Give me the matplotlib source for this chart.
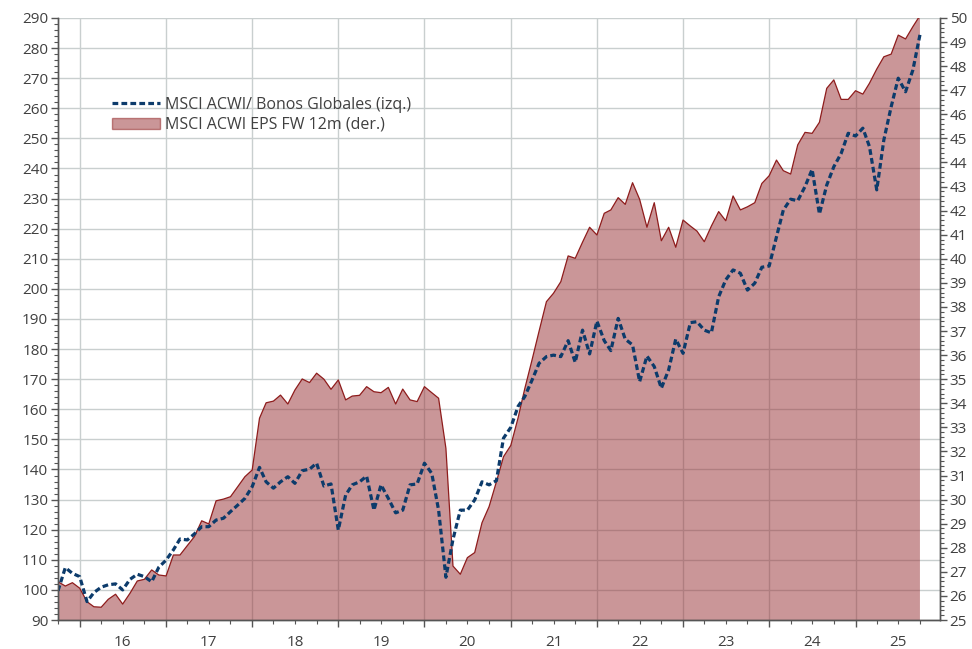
import numpy as np
import pandas as pd
import matplotlib
matplotlib.use("Agg")
import matplotlib.pyplot as plt
import matplotlib.dates as mdates
from matplotlib.ticker import MultipleLocator, FuncFormatter
from matplotlib.lines import Line2D
from matplotlib.patches import Patch

plt.rcParams['font.family'] = ['Open Sans', 'DejaVu Sans']

# monthly, Oct-2015 .. Oct-2025
dates = pd.date_range('2015-10-01', periods=121, freq='MS')

# MSCI ACWI / Global bonds (left axis)
ratio = [
    99.7, 107.4, 105.5, 104.4, 96.1, 99.1, 100.9, 101.7, 102.0, 100.0,
    103.5, 105.2, 104.4, 102.7, 107.5, 109.9, 113.3, 116.9, 116.6, 118.6,
    121.0, 121.0, 123.2, 123.8, 126.0, 128.2, 130.4, 134.3, 140.7, 135.9,
    133.8, 135.9, 137.6, 135.4, 139.6, 140.1, 142.1, 134.5, 135.2, 119.9,
    131.5, 134.9, 135.9, 137.8, 126.5, 134.9, 130.4, 125.6, 126.5, 134.9,
    135.2, 142.1, 138.7, 126.5, 104.2, 116.8, 126.5, 126.5, 129.9, 135.9,
    134.9, 136.3, 150.4, 154.0, 161.0, 164.2, 169.7, 175.3, 177.5, 178.0,
    177.5, 182.8, 175.6, 186.3, 178.4, 189.3, 182.8, 179.5, 190.2, 183.3,
    181.4, 169.2, 177.7, 174.2, 167.0, 173.1, 183.3, 178.6, 188.8, 189.1,
    186.3, 185.4, 197.4, 203.0, 206.3, 205.2, 199.6, 201.9, 207.2, 207.6,
    217.3, 226.2, 229.8, 229.3, 234.0, 239.7, 224.9, 234.5, 240.6, 245.0,
    251.7, 250.8, 253.4, 247.3, 232.9, 249.5, 260.5, 270.0, 265.5, 272.7,
    284.4,
]

# MSCI ACWI EPS forward 12m (right axis)
eps = [
    26.59, 26.41, 26.55, 26.32, 25.76, 25.55, 25.53, 25.86, 26.07, 25.66,
    26.11, 26.62, 26.69, 27.08, 26.87, 26.83, 27.70, 27.70, 28.09, 28.46,
    29.12, 28.99, 29.95, 30.02, 30.12, 30.54, 30.95, 31.23, 33.38, 34.02,
    34.09, 34.34, 33.97, 34.55, 35.01, 34.86, 35.25, 35.00, 34.58, 34.97,
    34.14, 34.30, 34.33, 34.69, 34.48, 34.44, 34.66, 33.97, 34.59, 34.14,
    34.07, 34.69, 34.44, 34.21, 32.13, 27.24, 26.90, 27.59, 27.80, 29.04,
    29.71, 30.74, 31.78, 32.25, 33.40, 34.60, 35.80, 37.00, 38.22, 38.57,
    39.05, 40.12, 40.02, 40.69, 41.31, 40.99, 41.89, 42.03, 42.54, 42.26,
    43.16, 42.47, 41.31, 42.33, 40.75, 41.31, 40.48, 41.61, 41.36, 41.15,
    40.71, 41.36, 41.96, 41.58, 42.61, 42.03, 42.16, 42.33, 43.13, 43.45,
    44.10, 43.66, 43.52, 44.73, 45.25, 45.21, 45.67, 47.08, 47.43, 46.62,
    46.62, 46.98, 46.84, 47.29, 47.88, 48.39, 48.50, 49.29, 49.13, 49.64,
    50.10,
]

lbl_ratio = 'MSCI ACWI/ Bonos Globales (izq.)'
lbl_eps = 'MSCI ACWI EPS FW 12m (der.)'

txt = '#404040'
fill_c = '#972f33'
edge_c = '#8e1c1c'
blue = '#0c3b6b'
grid_c = '#c9cfcf'

fig = plt.figure(figsize=(9.72, 6.49), dpi=100)
ax = fig.add_axes([58 / 972, 1 - 620 / 649, 882 / 972, 602 / 649])
ax2 = ax.twinx()

ax.set_ylim(90, 290)
ax2.set_ylim(25, 50)

# area drawn in ax (so grid stays beneath it) but on the right-axis scale
ax.fill_between(dates, 25, eps, transform=ax2.transData,
                facecolor=fill_c, alpha=0.5, linewidth=0, zorder=1)
ax.plot(dates, eps, transform=ax2.transData, color=edge_c, lw=0.9, zorder=1.5)
ax.plot(dates, ratio, color=blue, lw=2.3, dashes=(1.8, 1.0), zorder=3)
ax.set_ylim(90, 290)
ax.set_xlim(dates[0], pd.Timestamp('2025-12-25'))

ax.set_axisbelow(True)
ax.grid(True, which='major', axis='both', color=grid_c, lw=1)

ax.yaxis.set_major_locator(MultipleLocator(10))
ax.yaxis.set_minor_locator(MultipleLocator(2))
ax2.yaxis.set_major_locator(MultipleLocator(1))
ax2.yaxis.set_minor_locator(MultipleLocator(0.2))

ax.xaxis.set_major_locator(mdates.YearLocator())
ax.xaxis.set_major_formatter(FuncFormatter(lambda v, p: ''))
ax.xaxis.set_minor_locator(mdates.MonthLocator(bymonth=[1, 4, 7, 10]))
ax.xaxis.set_minor_formatter(FuncFormatter(
    lambda v, p: mdates.num2date(v).strftime('%y') if mdates.num2date(v).month == 7 else ''))

for a in (ax, ax2):
    a.spines['top'].set_visible(False)
    for s in ('left', 'right', 'bottom'):
        a.spines[s].set_color('#555555')
        a.spines[s].set_linewidth(1)
    a.tick_params(which='major', length=5, width=1, color='#555555',
                  labelsize=11, labelcolor=txt)
    a.tick_params(which='minor', length=3, width=0.8, color='#555555',
                  labelsize=11, labelcolor=txt)
ax.tick_params(axis='x', which='minor', pad=8)
ax.tick_params(axis='y', which='major', pad=2)
ax2.tick_params(axis='y', which='major', pad=2)

handles = [Line2D([], [], color=blue, lw=2.3, dashes=(1.8, 1.0)),
           Patch(facecolor=fill_c, alpha=0.5, edgecolor=edge_c)]
fig.legend(handles, [lbl_ratio, lbl_eps], loc='upper left',
           bbox_to_anchor=(104 / 972, 1 - 89 / 649), frameon=False,
           fontsize=11.5, labelcolor=txt, handlelength=3.0,
           handletextpad=0.3, borderpad=0, labelspacing=0.25)

fig.savefig('out.png', dpi=100)
